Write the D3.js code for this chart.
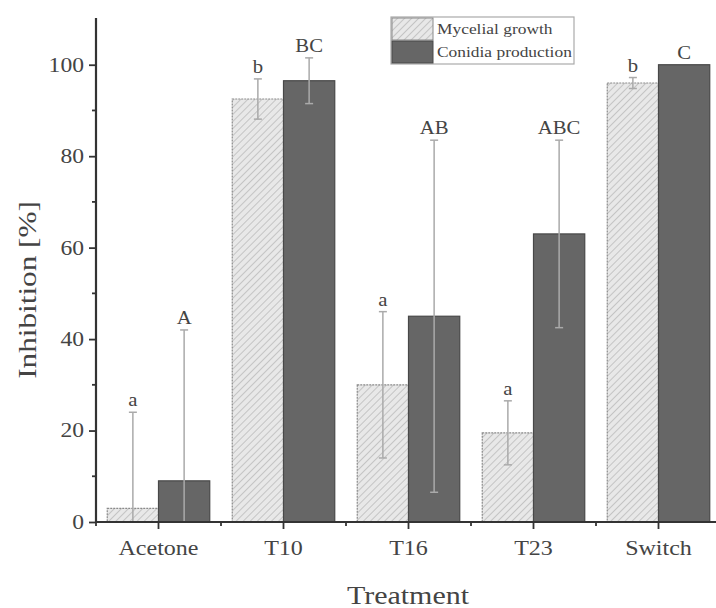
<!doctype html>
<html>
<head>
<meta charset="utf-8">
<script src="https://d3js.org/d3.v7.min.js"></script>
<style>
  body { margin: 0; background: #fff; }
  text { font-family: "Liberation Serif", "DejaVu Serif", serif; fill: #444; }
</style>
</head>
<body>
<script>
// ---- data ----
var treatments = ["Acetone", "T10", "T16", "T23", "Switch"];
var seriesNames = ["Mycelial growth", "Conidia production"];
var mycelial = [3, 92.5, 30, 19.5, 96];
var mycelialErr = [21, 4.4, 16, 7, 1.2];
var mycelialLetters = ["a", "b", "a", "a", "b"];
var conidia = [9, 96.5, 45, 63, 100];
var conidiaErr = [33, 5, 38.5, 20.5, 0];
var conidiaLetters = ["A", "BC", "AB", "ABC", "C"];
var yTicks = [0, 20, 40, 60, 80, 100];
var yMinor = [10, 30, 50, 70, 90];

var width = 716, height = 608;
var svg = d3.select("body").append("svg").attr("width", width).attr("height", height);

// the original font is a wide book face; widen the serif a bit
function widen(sel, k) {
  sel.each(function() {
    var w = this.getComputedTextLength();
    d3.select(this).attr("textLength", w * k).attr("lengthAdjust", "spacingAndGlyphs");
  });
}

var defs = svg.append("defs");
var pat = defs.append("pattern")
    .attr("id", "hatch")
    .attr("patternUnits", "userSpaceOnUse")
    .attr("width", 5).attr("height", 5)
    .attr("patternTransform", "rotate(45)");
pat.append("rect").attr("width", 5).attr("height", 5).attr("fill", "#e8e8e8");
pat.append("line").attr("x1", 0).attr("y1", 0).attr("x2", 0).attr("y2", 5)
    .attr("stroke", "#b8b8b8").attr("stroke-width", 1.5);

var x = d3.scaleBand().domain(treatments).range([96, 721])
    .paddingInner(0.18).paddingOuter(0.09);
var xs = d3.scaleBand().domain([0, 1]).range([0, x.bandwidth()]);
var y = d3.scaleLinear().domain([0, 110]).range([522, 19]);

var rows = [];
treatments.forEach(function(t, i) {
  rows.push({t: t, s: 0, v: mycelial[i], e: mycelialErr[i], l: mycelialLetters[i]});
  rows.push({t: t, s: 1, v: conidia[i], e: conidiaErr[i], l: conidiaLetters[i]});
});

var g = svg.append("g");

g.selectAll("rect.bar").data(rows).enter().append("rect")
  .attr("class", "bar")
  .attr("x", function(d) { return x(d.t) + xs(d.s); })
  .attr("width", xs.bandwidth())
  .attr("y", function(d) { return y(d.v); })
  .attr("height", function(d) { return y(0) - y(d.v); })
  .attr("fill", function(d) { return d.s == 0 ? "url(#hatch)" : "#666"; })
  .attr("stroke", function(d) { return d.s == 0 ? "#8a8a8a" : "#484848"; })
  .attr("stroke-dasharray", function(d) { return d.s == 0 ? "2,1" : null; })
  .attr("stroke-width", 1.2);

// error bars (lower part clipped at 0)
var eb = g.selectAll("g.err").data(rows).enter().append("g").attr("class", "err")
  .attr("transform", function(d) { return "translate(" + (x(d.t) + xs(d.s) + xs.bandwidth() / 2) + ",0)"; });
var withErr = eb.filter(function(d) { return d.e > 0; });
withErr.append("line")
  .attr("y1", function(d) { return y(Math.max(0, d.v - d.e)); })
  .attr("y2", function(d) { return y(d.v + d.e); })
  .attr("stroke", "#aaa").attr("stroke-width", 1.5);
withErr.append("line")
  .attr("x1", -4).attr("x2", 4)
  .attr("y1", function(d) { return y(d.v + d.e); })
  .attr("y2", function(d) { return y(d.v + d.e); })
  .attr("stroke", "#aaa").attr("stroke-width", 1.5);
withErr.filter(function(d) { return d.v - d.e > 0; }).append("line")
  .attr("x1", -4).attr("x2", 4)
  .attr("y1", function(d) { return y(d.v - d.e); })
  .attr("y2", function(d) { return y(d.v - d.e); })
  .attr("stroke", "#aaa").attr("stroke-width", 1.5);
var letters = eb.append("text")
  .attr("text-anchor", "middle")
  .attr("y", function(d) { return y(d.v + d.e) - 6; })
  .style("font-size", "18px")
  .text(function(d) { return d.l; });
widen(letters, 1.15);

// y axis
var yAxis = d3.axisLeft(y).tickValues(yTicks).tickSize(7).tickPadding(5);
var ya = svg.append("g").attr("transform", "translate(96,0)").call(yAxis);
ya.select(".domain").attr("stroke", "#333").attr("stroke-width", 2.2).attr("d", "M0,18V523");
ya.selectAll(".tick line").attr("stroke", "#333").attr("stroke-width", 1.8);
var yl = ya.selectAll(".tick text").style("font-size", "20px").attr("fill", "#4a4a4a")
  .style("font-family", "Liberation Serif, serif");
widen(yl, 1.18);
ya.selectAll("line.minor").data(yMinor).enter().append("line")
  .attr("class", "minor")
  .attr("x1", -4).attr("x2", 0)
  .attr("y1", function(d) { return y(d); }).attr("y2", function(d) { return y(d); })
  .attr("stroke", "#333").attr("stroke-width", 1.8);

// x axis
var xa = svg.append("g").attr("transform", "translate(0,522)");
xa.append("line").attr("x1", 95).attr("x2", 716).attr("stroke", "#333").attr("stroke-width", 2.2);
xa.selectAll("line.maj").data(treatments).enter().append("line")
  .attr("x1", function(d) { return x(d) + x.bandwidth() / 2; })
  .attr("x2", function(d) { return x(d) + x.bandwidth() / 2; })
  .attr("y1", 0).attr("y2", 7).attr("stroke", "#333").attr("stroke-width", 1.8);
xa.selectAll("line.min").data(treatments).enter().append("line")
  .attr("x1", function(d) { return x(d) - x.step() * x.paddingInner() / 2; })
  .attr("x2", function(d) { return x(d) - x.step() * x.paddingInner() / 2; })
  .attr("y1", 0).attr("y2", 4).attr("stroke", "#333").attr("stroke-width", 1.8);
var xl = xa.selectAll("text.lab").data(treatments).enter().append("text")
  .attr("x", function(d) { return x(d) + x.bandwidth() / 2; })
  .attr("y", 33)
  .attr("text-anchor", "middle")
  .style("font-size", "20px")
  .text(function(d) { return d; });
widen(xl, 1.2);

// axis titles
var yt = svg.append("text")
  .attr("transform", "translate(36,290) rotate(-90)")
  .attr("text-anchor", "middle")
  .style("font-size", "26px")
  .text("Inhibition [%]");
widen(yt, 1.2);
var xt = svg.append("text")
  .attr("x", 408).attr("y", 604)
  .attr("text-anchor", "middle")
  .style("font-size", "25px")
  .text("Treatment");
widen(xt, 1.2);

// legend
var lg = svg.append("g").attr("transform", "translate(391,17)");
lg.append("rect").attr("width", 183).attr("height", 47)
  .attr("fill", "#fff").attr("stroke", "#aaa").attr("stroke-width", 1.2);
lg.selectAll("rect.sw").data(seriesNames).enter().append("rect")
  .attr("class", "sw")
  .attr("x", 1).attr("y", function(d, i) { return 1 + i * 23; })
  .attr("width", 41).attr("height", 22)
  .attr("fill", function(d, i) { return i == 0 ? "url(#hatch)" : "#666"; })
  .attr("stroke", function(d, i) { return i == 0 ? "#8a8a8a" : "#484848"; });
var lt = lg.selectAll("text").data(seriesNames).enter().append("text")
  .attr("x", 46).attr("y", function(d, i) { return 17 + i * 23; })
  .style("font-size", "14.5px")
  .text(function(d) { return d; });
widen(lt, 1.2);
</script>
</body>
</html>
